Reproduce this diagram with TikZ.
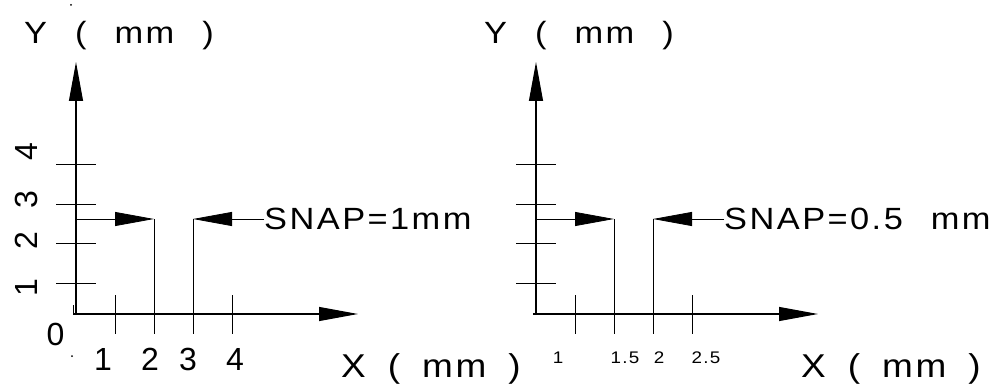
\documentclass[tikz,border=0pt]{standalone}
\usepackage{fontspec}
\setmainfont{Liberation Sans}
\newfontfamily\cadfont[FakeStretch=1.12,LetterSpace=8]{Liberation Sans}
\newcommand\setgap[1]{\spaceskip=#1\relax}
\usetikzlibrary{arrows.meta}

\begin{document}
\begin{tikzpicture}[x=1pt,y=-1pt,
    ax/.style={line width=1.1pt},
    fine/.style={line width=0.8pt},
    tip/.style={-{Triangle[length=39pt,width=14pt]}},
    lbl/.style={font=\cadfont\fontsize{30.7}{36}\selectfont\setgap{28pt},inner sep=0pt},
    xlbl/.style={font=\cadfont\fontsize{33}{38}\selectfont\setgap{22pt},inner sep=0pt},
    num/.style={font=\fontsize{32}{36}\selectfont,inner sep=0pt},
    smallnum/.style={font=\cadfont\fontsize{16.8}{20}\selectfont,inner sep=0pt}]
  \useasboundingbox (0,0) rectangle (999,385);
  % both panels, right one shifted by 460
  \foreach \dx/\p/\thk/\snap in {0/L/73/{SNAP=1mm},460/R/95/{SNAP=0.5 mm}} {
    \begin{scope}[shift={(\dx,0)}]
      \coordinate (o\p) at (76,314);
      \coordinate (ytop\p) at (76,62);
      \coordinate (xbeg\p) at (73,314);
      \coordinate (xend\p) at (358,314);
      \draw[ax,tip] (o\p) -- (ytop\p);
      \draw[ax,tip] (xbeg\p) -- (xend\p);
      \draw[line width=2pt] (\thk,314) -- (250,314);
      \foreach \y in {164,204,243,283}
        \draw[fine] (56,\y) -- (96,\y);
      \foreach \x in {115,154,193,232}
        \draw[fine] (\x,295) -- (\x,334);
      % snap arrows
      \node[lbl,anchor=west] (snap\p) at (264,219) {\snap};
      \coordinate (a\p) at (154,219);
      \coordinate (b\p) at (193,219);
      \coordinate (yhit\p) at (76,219);
      \draw[fine,tip] (yhit\p) -- (a\p);
      \draw[fine] (a\p) -- (154,334);
      \draw[fine,tip] (snap\p.west) -- (b\p);
      \draw[fine] (b\p) -- (193,334);
      \node[lbl,anchor=base west] (ylab\p) at (24,44) {Y ( mm )};
      \node[xlbl,anchor=base west] (xlab\p) at (341,377) {X ( mm )};
    \end{scope}
  }
  \draw[fine] (73,305) -- (xbegL);
  \fill (71,5) circle (1pt);
  \fill (72,356) circle (1pt);
  % tick labels
  \foreach \y/\n in {152/4,200/3,241/2,288/1}
    \node[num,rotate=90,anchor=base] (yn\n) at (37,\y) {\n};
  \node[num,anchor=base] (xn0) at (55.5,345) {0};
  \foreach \x/\n in {103/1,150/2,188/3,235/4}
    \node[num,anchor=base] (xn\n) at (\x,370) {\n};
  \foreach \x/\n/\k in {558/1/a,625/1.5/b,659/2/c,706/2.5/d}
    \node[smallnum,anchor=base] (xs\k) at (\x,363) {\n};
\end{tikzpicture}
\end{document}
